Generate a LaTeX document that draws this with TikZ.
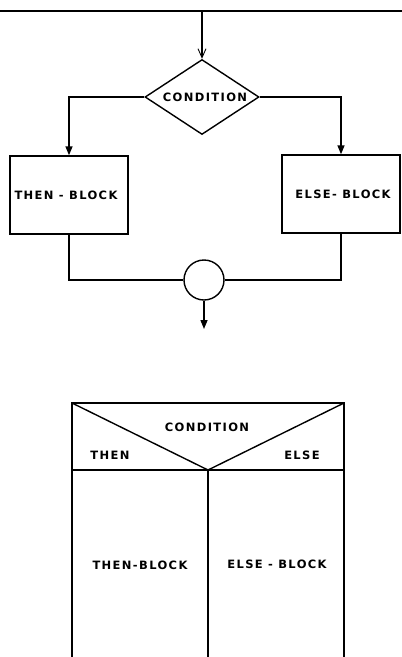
\documentclass[tikz,border=0pt]{standalone}
\usepackage{fontspec}
\setmainfont{DejaVu Sans}[LetterSpace=12]
\usetikzlibrary{shapes.geometric,arrows.meta}
\begin{document}
\begin{tikzpicture}[x=1pt,y=-1pt,line width=1.4pt,
  lbl/.style={font=\fontsize{11.5}{13}\selectfont\bfseries,inner sep=0},
  blockbox/.style={draw,minimum width=118pt,minimum height=78pt,inner sep=0},
  arr/.style={-{Triangle[length=9pt,width=7pt]}},
  openarr/.style={-{Straight Barb[length=9pt,width=8pt,line width=0.9pt]}}]
\useasboundingbox (0,0) rectangle (402,657);
% top rule
\coordinate (rl) at (0,11);
\coordinate (rr) at (402,11);
\draw[line width=1.1pt] (rl) -- (rr);
% upper flowchart
\coordinate (top) at (202,11);
\node[diamond,draw,minimum width=114pt,minimum height=75pt,inner sep=0] (cond) at (202,97) {};
\node[lbl] (condt) at (205,97) {CONDITION};
\node[blockbox] (thenb) at (69,195) {};
\node[lbl] (thent) at (66,195) {THEN - BLOCK};
\node[blockbox] (elseb) at (341,194) {};
\node[lbl] (elset) at (343,194) {ELSE- BLOCK};
\node[circle,draw,minimum size=40pt,inner sep=0] (j) at (204,280) {};
\coordinate (out) at (204,329);
\draw[openarr] (top) -- (cond.north);
\draw[arr] (cond.west) -| (thenb.north);
\draw[arr] (cond.east) -| (elseb.north);
\draw (thenb.south) |- (j.west);
\draw (elseb.south) |- (j.east);
\draw[arr] (j.south) -- (out);
% lower structogram
\coordinate (tl) at (72,403);
\coordinate (tr) at (344,403);
\coordinate (ml) at (72,470);
\coordinate (mr) at (344,470);
\coordinate (mid) at (208,470);
\coordinate (bl) at (72,657);
\coordinate (br) at (344,657);
\coordinate (bm) at (208,657);
\draw (bl) -- (tl) -- (tr) -- (br);
\draw (ml) -- (mr);
\draw (tl) -- (mid) -- (tr);
\draw (mid) -- (bm);
\node[lbl] (scond) at (207,427) {CONDITION};
\node[lbl] (sthen) at (110,455) {THEN};
\node[lbl] (selse) at (302,455) {ELSE};
\node[lbl] (sthenb) at (140,565) {THEN-BLOCK};
\node[lbl] (selseb) at (277,564) {ELSE - BLOCK};
\end{tikzpicture}
\end{document}
